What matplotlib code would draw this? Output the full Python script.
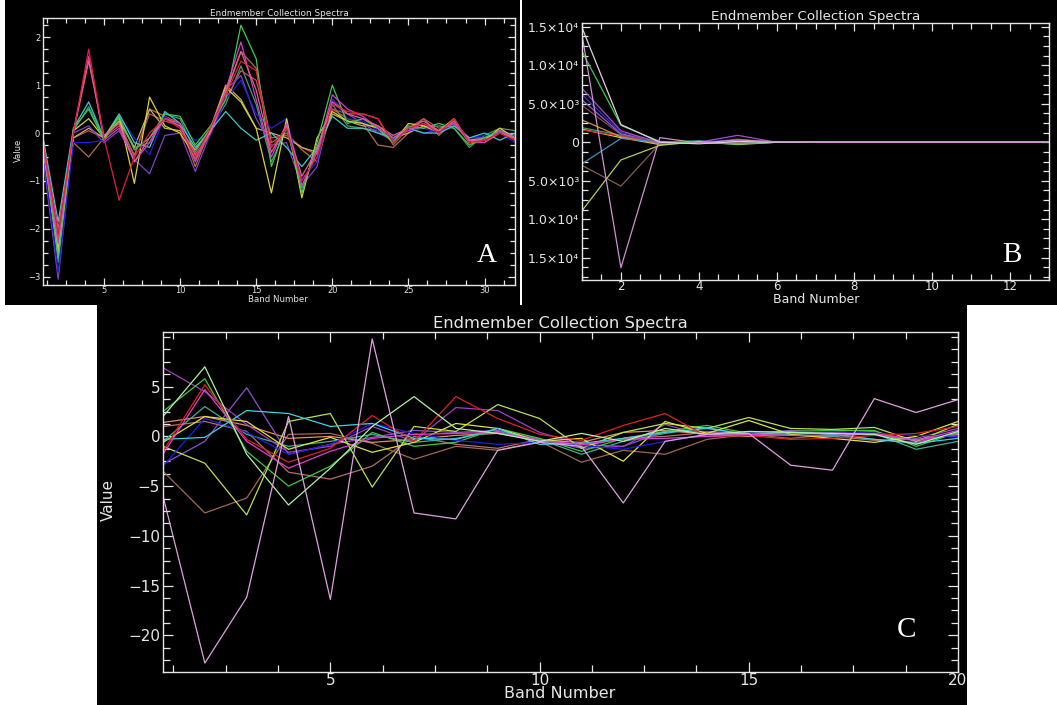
import numpy as np
import matplotlib
matplotlib.use("Agg")
import matplotlib.pyplot as plt
from matplotlib.patches import Rectangle
from matplotlib.ticker import MultipleLocator, FixedLocator

W, H = 1057, 705

# ---- panel A : 32 bands ----
bands_a = np.arange(1, 33)
a_red = [-0.2, -2.1, 0.0, 1.75, -0.1, -1.4, -0.5, 0.0, 0.3, 0.1, -0.5, 0.1, 0.8, 1.5, 1.3, -0.3, 0.1, -1.0, -0.5, 0.6, 0.45, 0.4, 0.3, -0.2, 0.1, 0.2, 0.0, 0.3, -0.2, -0.15, 0.0, -0.15]
a_magenta = [-0.3, -2.3, 0.05, 1.6, -0.15, 0.1, -0.6, -0.2, 0.3, 0.2, -0.6, 0.1, 0.9, 1.9, 0.7, -0.5, 0.2, -1.1, -0.4, 0.8, 0.5, 0.35, 0.1, -0.1, 0.05, 0.2, 0.05, 0.2, -0.15, -0.2, 0.05, -0.1]
a_cyan = [-0.1, -1.85, 0.1, 0.65, -0.1, 0.4, -0.2, -0.3, 0.45, 0.2, -0.3, 0.05, 0.45, 0.1, -0.15, 0.0, -0.3, -0.7, -0.3, 0.35, 0.1, 0.1, 0.0, -0.1, 0.1, 0.0, 0.0, 0.15, -0.1, 0.0, -0.15, 0.0]
a_green = [-0.2, -2.6, 0.1, 0.5, -0.15, 0.35, -0.35, -0.1, 0.4, 0.35, -0.25, 0.15, 0.7, 2.25, 1.55, -0.7, 0.2, -1.25, -0.2, 1.0, 0.2, 0.3, 0.1, -0.2, 0.15, 0.1, 0.2, 0.1, -0.25, -0.1, 0.05, -0.1]
a_yellow = [-0.3, -2.5, 0.05, 0.3, -0.1, 0.35, -1.05, 0.75, 0.15, 0.0, -0.5, 0.05, 0.95, 0.65, 0.1, -1.25, 0.3, -1.35, -0.1, 0.45, 0.25, 0.2, 0.1, -0.2, 0.2, 0.15, 0.05, 0.3, -0.2, -0.15, 0.1, -0.1]
a_blue = [-0.4, -2.9, -0.2, -0.2, -0.15, 0.35, -0.1, -0.45, 0.35, 0.1, -0.15, -0.05, 0.7, 1.1, 0.4, 0.1, 0.3, -0.95, -0.6, 0.7, 0.3, 0.25, 0.05, -0.1, 0.05, 0.1, 0.0, 0.2, -0.1, -0.05, 0.0, -0.2]
a_brown = [-0.2, -2.4, -0.2, -0.5, -0.1, 0.25, -0.5, 0.5, 0.35, 0.2, -0.7, 0.1, 0.8, 1.7, 1.35, -0.2, 0.0, -0.35, -0.6, 0.5, 0.3, 0.2, -0.25, -0.3, 0.0, 0.3, -0.05, 0.25, -0.2, -0.1, 0.05, -0.15]
a_purple = [-0.5, -3.05, 0.0, 0.15, -0.2, 0.05, -0.55, -0.85, -0.05, 0.0, -0.8, 0.0, 0.9, 1.2, 0.3, -0.25, -0.2, -1.1, -0.7, 0.7, 0.4, 0.2, 0.0, -0.15, 0.1, 0.0, 0.05, 0.15, -0.1, -0.1, 0.05, -0.05]
a_seagreen = [-0.2, -2.7, 0.05, 0.55, -0.1, 0.3, -0.3, -0.2, 0.4, 0.3, -0.4, 0.1, 0.6, 1.4, 0.6, -0.6, 0.1, -1.15, -0.3, 0.6, 0.15, 0.1, 0.05, -0.15, 0.1, 0.1, 0.15, 0.1, -0.3, -0.05, 0.1, 0.05]
a_coral = [-0.1, -2.2, -0.1, 0.05, -0.1, 0.15, -0.45, 0.4, 0.25, 0.15, -0.55, 0.0, 0.7, 1.3, 1.1, -0.1, -0.05, -0.3, -0.45, 0.5, 0.4, 0.4, 0.3, -0.25, 0.1, 0.3, 0.1, 0.2, -0.2, -0.2, 0.0, -0.1]
a_khaki = [-0.15, -2.4, -0.1, 0.1, -0.1, 0.25, -0.3, 0.5, 0.1, 0.05, -0.35, 0.1, 1.0, 0.7, 0.1, 0.0, -0.1, -0.3, -0.4, 0.4, 0.25, 0.15, 0.15, -0.1, 0.0, 0.15, 0.0, 0.2, -0.15, -0.1, 0.0, -0.1]
a_pink = [-0.2, -2.0, 0.0, 1.5, -0.05, 0.2, -0.6, -0.1, 0.3, 0.15, -0.45, 0.0, 0.85, 1.7, 0.9, -0.4, 0.15, -0.9, -0.35, 0.65, 0.4, 0.3, 0.15, -0.05, 0.1, 0.25, 0.05, 0.25, -0.15, -0.15, 0.0, -0.1]

series_a = [(a_seagreen, "#3ea070"), (a_brown, "#b07040"), (a_coral, "#c05060"), (a_khaki, "#c8b060"),
            (a_purple, "#8040c8"), (a_blue, "#2020d8"), (a_cyan, "#40c8c8"), (a_yellow, "#d8d040"),
            (a_green, "#40c850"), (a_magenta, "#d040c8"), (a_pink, "#e06090"), (a_red, "#e02030")]

# ---- panel B : 13 bands ----
bands_b = np.arange(1, 14)
b_thistle = [14900, 2300, 0, -200, 100, 0, 0, 0, 0, 0, 0, 0, 0]
b_green = [11800, 2200, 100, -100, -200, 0, 0, 0, 0, 0, 0, 0, 0]
b_orchid = [14000, -16300, 600, -100, 300, 50, 0, 0, 0, 0, 0, 0, 0]
b_purple = [7000, 1500, -100, 0, 900, 0, 0, 0, 0, 0, 0, 0, 0]
b_blue = [6200, 1300, 0, 100, 200, 50, 0, 0, 0, 0, 0, 0, 0]
b_violet = [5500, 1100, 100, 0, -100, 0, 0, 0, 0, 0, 0, 0, 0]
b_maroon = [4800, 1000, 0, -100, 400, 0, 0, 0, 0, 0, 0, 0, 0]
b_orange = [2900, 700, -200, 0, 100, 0, 0, 0, 0, 0, 0, 0, 0]
b_yellow = [1700, 600, -300, 100, -100, 0, 0, 0, 0, 0, 0, 0, 0]
b_red = [1600, 800, -100, 0, 200, 0, 0, 0, 0, 0, 0, 0, 0]
b_steel = [-2800, 500, 0, -50, 0, 100, 0, 0, 0, 0, 0, 0, 0]
b_brown = [-3000, -5700, -200, 0, 0, 0, 0, 0, 0, 0, 0, 0, 0]
b_ygreen = [-8900, -2300, -400, 100, -300, 0, 0, 0, 0, 0, 0, 0, 0]
b_seagreen = [1900, 900, 0, 200, -200, 0, 0, 0, 0, 0, 0, 0, 0]

series_b = [(b_seagreen, "#3ea070"), (b_yellow, "#d8d040"), (b_red, "#e02030"), (b_orange, "#d09040"),
            (b_maroon, "#904060"), (b_violet, "#9060d0"), (b_blue, "#3030d8"), (b_purple, "#a050c0"),
            (b_steel, "#4090c0"), (b_brown, "#806050"), (b_ygreen, "#b0d050"), (b_green, "#40c850"),
            (b_thistle, "#e0d0e0"), (b_orchid, "#d090d0")]

# ---- panel C : 20 bands ----
bands_c = np.arange(1, 21)
c_pink = [-6.0, -22.8, -16.2, 2.0, -16.4, 9.8, -7.7, -8.3, -1.4, -0.6, -1.0, -6.7, -0.5, 0.2, 0.3, -2.9, -3.4, 3.8, 2.4, 3.7]
c_palegreen = [2.0, 7.0, -1.8, -6.9, -3.2, 1.0, 4.0, 0.8, 0.3, -0.5, 0.3, -0.5, 0.8, 0.2, 0.5, 0.4, 0.3, 0.2, -0.8, 0.5]
c_green = [2.5, 5.8, -1.5, -5.0, -3.0, 0.4, -1.0, -0.6, 0.8, -0.2, -1.5, -0.2, 0.5, 1.1, 0.3, 0.5, 0.6, 0.6, -1.0, 0.4]
c_purple = [6.9, 4.5, 1.2, -1.6, -1.0, 1.0, -0.5, 2.9, 2.6, 0.4, -0.8, -1.0, 1.2, 0.0, 0.2, 0.3, 0.3, 0.5, -0.5, 0.3]
c_violet = [-2.8, -0.5, 4.9, -1.8, -0.8, -0.1, 0.6, 0.4, 0.6, -0.3, -1.2, -1.0, 0.5, 0.5, 0.3, 0.6, 0.4, 0.1, -0.2, 0.8]
c_magenta = [-1.8, 4.7, -0.5, -3.2, -1.5, -0.2, 0.2, 0.3, 0.4, -0.4, -0.8, -0.3, -0.2, 0.0, 0.2, 0.1, 0.1, 0.3, -0.4, 0.6]
c_red = [-1.5, 5.2, -0.3, -2.6, -1.2, 2.1, -0.5, 4.0, 1.8, 0.2, -0.4, 1.1, 2.3, 0.0, 0.1, -0.3, -0.2, 0.1, 0.3, 1.0]
c_cyan = [-0.3, -0.1, 2.6, 2.3, 1.0, 1.3, -0.2, -0.3, 0.8, -0.8, -0.7, -0.2, 0.4, 0.8, 0.2, 0.4, 0.2, -0.3, -0.7, -0.2]
c_aqua = [-0.5, 3.0, 0.2, -1.0, -0.5, 0.2, -0.6, -0.2, 0.5, -0.3, -1.8, -0.5, 0.3, 0.9, 0.1, 0.2, 0.0, 0.3, -1.3, -0.5]
c_yellow = [-0.6, 2.0, 1.5, -1.3, -0.1, -1.6, -0.6, 1.3, 0.8, -0.5, -0.2, -2.5, 1.5, 0.3, 1.6, 0.2, -0.2, -0.6, 0.0, 1.5]
c_coral = [1.4, 2.0, 1.1, -0.2, 0.0, -0.6, -0.3, 0.1, 0.3, -0.4, -0.6, 0.4, 0.6, 0.2, 0.0, 0.3, 0.5, 0.2, -0.4, 0.2]
c_blue = [-3.0, 1.8, 0.4, -1.8, -0.8, 1.3, 0.3, -0.4, -0.8, -0.6, -0.9, -1.3, -0.5, 0.2, 0.3, 0.4, 0.5, 0.3, 0.1, 0.0]
c_brown = [-3.5, -7.7, -6.2, 0.2, 0.3, -0.7, -2.3, -1.0, -1.4, -0.5, -2.6, -1.4, -1.8, -0.3, 0.2, -0.2, 0.2, -0.3, -0.6, 0.3]
c_ygreen = [-1.0, -2.7, -7.9, 1.5, 2.3, -5.1, 1.0, 0.5, 3.2, 1.8, -1.2, 0.4, 1.3, 0.8, 1.9, 0.8, 0.7, 0.9, -0.5, 1.2]
c_rosy = [1.0, 1.5, 0.5, -3.6, -4.3, -3.0, 0.0, -0.8, -1.2, -0.3, -1.0, -0.2, 0.0, 0.4, 0.3, 0.1, 0.0, -0.4, -0.3, 0.2]

series_c = [(c_rosy, "#b07070"), (c_brown, "#a06850"), (c_coral, "#e09060"), (c_aqua, "#40b090"),
            (c_violet, "#9050d0"), (c_purple, "#a040c0"), (c_green, "#40c840"), (c_ygreen, "#b8e050"),
            (c_yellow, "#e0e040"), (c_blue, "#2020e0"), (c_cyan, "#40d0e0"), (c_red, "#e02020"),
            (c_magenta, "#e040d0"), (c_palegreen, "#b0f0a8"), (c_pink, "#e0a0e0")]

b_ticks = [15000, 10000, 5000, 0, -5000, -10000, -15000]
b_ticklabels = ["1.5×10⁴", "1.0×10⁴", "5.0×10³", "0", "5.0×10³", "1.0×10⁴", "1.5×10⁴"]

FG = "#e6e6e6"


def frac(l, t, r, b):
    return [l / W, 1 - b / H, (r - l) / W, (b - t) / H]


def block(l, t, r, b, color, z=-1):
    fig.add_artist(Rectangle((l / W, 1 - b / H), (r - l) / W, (b - t) / H,
                             transform=fig.transFigure, facecolor=color,
                             edgecolor="none", zorder=z))


def style_axes(ax, fs, xmaj, xmin, ymaj, ymin, lmaj, lmin):
    ax.set_facecolor("black")
    for s in ax.spines.values():
        s.set_color(FG)
        s.set_linewidth(1.0)
    ax.xaxis.set_major_locator(MultipleLocator(xmaj))
    ax.xaxis.set_minor_locator(MultipleLocator(xmin))
    ax.yaxis.set_major_locator(MultipleLocator(ymaj))
    ax.yaxis.set_minor_locator(MultipleLocator(ymin))
    ax.tick_params(which="both", direction="in", top=True, right=True, colors=FG,
                   labelsize=fs, width=0.9)
    ax.tick_params(which="major", length=lmaj, pad=2)
    ax.tick_params(which="minor", length=lmin)
    ax.tick_params(axis="x", pad=1)


fig = plt.figure(figsize=(W / 100, H / 100), dpi=100, facecolor="white")

# black panel backgrounds
block(5, 0, 520, 305, "black")
block(522, 0, 1057, 305, "black")
block(97, 300, 967, 705, "black")

# ---- A ----
axa = fig.add_axes(frac(43, 18, 515, 285))
for vals, col in series_a:
    axa.plot(bands_a, vals, color=col, lw=0.9)
axa.set_xlim(1, 32)
axa.set_ylim(-3.17, 2.4)
style_axes(axa, 6, 5, 1.25, 1, 0.25, 5, 3.5)
axa.set_title("Endmember Collection Spectra", color=FG, fontsize=6.4, pad=1.5)
fig.text(278 / W, 1 - 299 / H, "Band Number", color=FG, fontsize=6.2, ha="center", va="center")
fig.text(18 / W, 1 - 150 / H, "Value", color=FG, fontsize=6, rotation=90, ha="center", va="center")
fig.text(487 / W, 1 - 255 / H, "A", color="white", fontsize=20, family="Liberation Serif",
         ha="center", va="center")

# ---- B ----
axb = fig.add_axes(frac(582, 23, 1049, 280))
for vals, col in series_b:
    axb.plot(bands_b, vals, color=col, lw=0.9)
axb.set_xlim(1, 13)
axb.set_ylim(-17900, 15500)
style_axes(axb, 9, 2, 0.5, 5000, 1250, 6, 4)
axb.tick_params(axis="x", labelsize=8.5, pad=0)
axb.yaxis.set_major_locator(FixedLocator(b_ticks))
axb.set_yticklabels(b_ticklabels)
axb.set_title("Endmember Collection Spectra", color=FG, fontsize=9.6, pad=2.5)
fig.text(816 / W, 1 - 299.5 / H, "Band Number", color=FG, fontsize=9, ha="center", va="center")
fig.text(1012 / W, 1 - 255 / H, "B", color="white", fontsize=21, family="Liberation Serif",
         ha="center", va="center")

# ---- C ----
axc = fig.add_axes(frac(163, 332, 958, 672))
for vals, col in series_c:
    axc.plot(bands_c, vals, color=col, lw=0.9)
axc.set_xlim(1, 20)
axc.set_ylim(-23.7, 10.5)
style_axes(axc, 11, 5, 1.25, 5, 1.25, 7, 5)
axc.yaxis.set_major_locator(FixedLocator([5, 0, -5, -10, -15, -20]))
axc.set_title("Endmember Collection Spectra", color=FG, fontsize=11.8, pad=3)
fig.text(560 / W, 1 - 694 / H, "Band Number", color=FG, fontsize=11.5, ha="center", va="center")
fig.text(108 / W, 1 - 500 / H, "Value", color=FG, fontsize=11, rotation=90, ha="center", va="center")
fig.text(907 / W, 1 - 630 / H, "C", color="white", fontsize=21, family="Liberation Serif",
         ha="center", va="center")

# white margins that cut the panels like in the composite
block(967, 305, 1057, 705, "white", z=10)
block(0, 305, 97, 705, "white", z=10)
block(0, 0, 5, 305, "white", z=10)
block(520, 0, 522, 305, "white", z=10)

fig.savefig("out.png", dpi=100, facecolor="white")
